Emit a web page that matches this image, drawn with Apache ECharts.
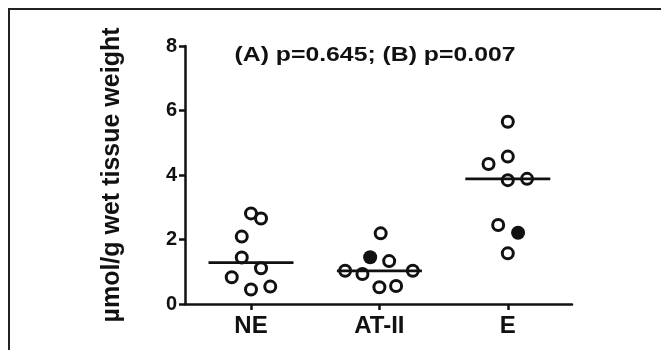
<!DOCTYPE html>
<html>
<head>
<meta charset="utf-8">
<script src="https://cdn.jsdelivr.net/npm/echarts@6/dist/echarts.min.js"></script>
<style>html,body{margin:0;padding:0;background:#fff;}#c{width:661px;height:350px;}</style>
</head>
<body>
<div id="c"></div>
<script>
const categories = ['NE', 'AT-II', 'E'];
const yTicks = [0, 2, 4, 6, 8];
// open circles: y values and horizontal jitter (category units)
const neValues = [2.81, 2.65, 2.09, 1.44, 1.11, 0.83, 0.45, 0.54];
const neJitter = [0, 0.078, -0.072, -0.072, 0.078, -0.15, 0, 0.15];
const at2Values = [2.19, 1.33, 1.03, 0.93, 1.03, 0.52, 0.56];
const at2Jitter = [0.01, 0.076, -0.267, -0.132, 0.26, 0, 0.13];
const eValues = [5.65, 4.57, 4.34, 3.84, 3.88, 2.45, 1.57];
const eJitter = [0, 0, -0.15, 0, 0.15, -0.075, 0];
// filled circles: group, jitter, value
const filledGroups = [1, 2];
const filledJitter = [-0.072, 0.08];
const filledValues = [1.45, 2.21];
const medians = [1.28, 1.03, 3.88];
const title = '(A) p=0.645; (B) p=0.007';
const yName = 'µmol/g wet tissue weight';

const FONT = 'Liberation Sans, Arial, sans-serif';
const groups = [[neValues, neJitter], [at2Values, at2Jitter], [eValues, eJitter]];
const openData = [];
groups.forEach((g, gi) => g[0].forEach((v, i) => openData.push([gi + g[1][i], v])));
const filledData = filledGroups.map((g, i) => [g + filledJitter[i], filledValues[i]]);

const chart = echarts.init(document.getElementById('c'), null, {renderer: 'canvas'});
chart.setOption({
  animation: false,
  backgroundColor: '#fff',
  grid: {left: 185, right: 89, top: 46, bottom: 46},
  xAxis: {
    type: 'value', min: -0.514, max: 2.5,
    splitLine: {show: false},
    axisLine: {show: true, onZero: false, lineStyle: {color: '#111', width: 2.5}},
    axisTick: {show: true, customValues: [0, 1, 2], length: 6, lineStyle: {color: '#111', width: 2.5}},
    axisLabel: {
      customValues: [0, 1, 2], margin: 10,
      formatter: v => categories[Math.round(v)],
      color: '#111', fontFamily: FONT, fontWeight: 'bold', fontSize: 24
    }
  },
  yAxis: {
    type: 'value', min: 0, max: 8, interval: 2,
    name: yName, nameLocation: 'middle', nameGap: 60,
    nameTextStyle: {color: '#111', fontFamily: FONT, fontWeight: 'bold', fontSize: 25},
    splitLine: {show: false},
    axisLine: {show: true, onZero: false, lineStyle: {color: '#111', width: 2.5}},
    axisTick: {show: true, length: 6, lineStyle: {color: '#111', width: 2.5}},
    axisLabel: {
      margin: 8, color: '#111', fontFamily: FONT, fontWeight: 'bold', fontSize: 20,
      formatter: v => yTicks.includes(v) ? String(v) : ''
    }
  },
  series: [
    {
      type: 'custom', z: 1,
      data: medians.map((m, i) => [i, m]),
      renderItem: (params, api) => {
        const i = api.value(0), m = api.value(1);
        const p1 = api.coord([i - 0.331, m]);
        const p2 = api.coord([i + 0.331, m]);
        return {type: 'line', shape: {x1: p1[0], y1: p1[1], x2: p2[0], y2: p2[1]},
                style: {stroke: '#111', lineWidth: 2.7}};
      }
    },
    {
      type: 'scatter', z: 3, symbol: 'circle', symbolSize: 11,
      data: openData,
      itemStyle: {color: 'rgba(0,0,0,0)', borderColor: '#111', borderWidth: 3, opacity: 1}
    },
    {
      type: 'scatter', z: 3, symbol: 'circle', symbolSize: 14,
      data: filledData,
      itemStyle: {color: '#111', borderWidth: 0, opacity: 1}
    }
  ],
  graphic: [
    {type: 'rect', shape: {x: 9, y: 9, width: 720, height: 420},
     style: {fill: 'none', stroke: '#222', lineWidth: 2}, silent: true},
    {type: 'text', x: 375, y: 55, scaleX: 1.18, originX: 0, originY: 0,
     style: {text: title, font: 'bold 21px ' + FONT, fill: '#111', textAlign: 'center', textVerticalAlign: 'middle'}}
  ]
});
</script>
</body>
</html>
